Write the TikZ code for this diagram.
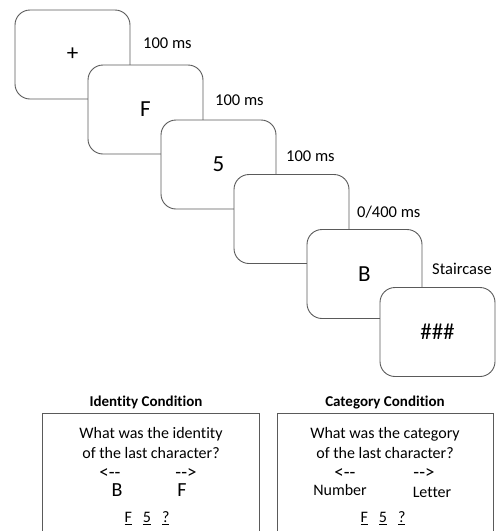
\documentclass[tikz,border=0pt]{standalone}
\usepackage{fontspec}
\setmainfont{Carlito}[Ligatures={TeX,NoCommon}]
\usepackage{tikz}

\tikzset{
  screen/.style={draw={rgb,255:red,90;green,90;blue,90}, fill=white, line width=0.9,
    rounded corners=15, minimum width=115, minimum height=89, inner sep=0,
    font=\fontsize{23}{26}\selectfont},
  timing/.style={anchor=west, inner sep=0, font=\fontsize{16.5}{18}\selectfont},
  question/.style={align=center, inner sep=0, font=\fontsize{16}{20}\selectfont},
  arrowtxt/.style={anchor=base, inner sep=0, font=\fontsize{19}{20}\selectfont},
  choice/.style={inner sep=0, font=\fontsize{16}{18}\selectfont},
  title/.style={inner sep=0, font=\fontsize{15}{17}\selectfont\bfseries},
  panel/.style={draw={rgb,255:red,90;green,90;blue,90}, line width=0.9}
}
\newcommand{\optrow}{\underline{F}\hspace{11pt}\underline{5}\hspace{11pt}\underline{?}}

\begin{document}
\begin{tikzpicture}[x=1pt,y=1pt,yscale=-1,xscale=1]
\useasboundingbox (0,0) rectangle (497,531);
%Shape: Rounded Rect (fixation)
\node [screen] (fix) at (72.5,54.5) {+};
%Shape: Rounded Rect (first char)
\node [screen] (charF) at (145.5,109.5) {F};
%Shape: Rounded Rect (second char)
\node [screen] (charFive) at (218.5,164.5) {5};
%Shape: Rounded Rect (blank)
\node [screen] (blank) at (291.5,219) {};
%Shape: Rounded Rect (target)
\node [screen] (target) at (364.5,274) {B};
%Shape: Rounded Rect (mask)
\node [screen] (mask) at (437.5,332) {\#\#\#};
% Text Node
\node [timing] (tFix) at (143,43) {100 ms};
% Text Node
\node [timing] (tF) at (215,100) {100 ms};
% Text Node
\node [timing] (tFive) at (286,156) {100 ms};
% Text Node
\node [timing] (tBlank) at (357,212) {0/400 ms};
% Text Node
\node [timing] (tTarget) at (432,269) {Staircase};

%Shape: Open box (identity)
\draw [panel] (42,531) -- (42,413) -- (259,413) -- (259,531) ;
%Shape: Open box (category)
\draw [panel] (277,531) -- (277,413) -- (493,413) -- (493,531) ;
% Text Node
\node [title] (idTitle) at (146,402) {Identity Condition};
% Text Node
\node [title] (catTitle) at (385,403) {Category Condition};
% Text Node
\node [question] (idQ) at (151,443) {What was the identity\\of the last character?};
% Text Node
\node [question] (catQ) at (385,443) {What was the category\\of the last character?};
% Text Node
\node [arrowtxt] (idLeft) at (110,478) {<{-}-};
% Text Node
\node [arrowtxt] (idRight) at (186,478) {-{-}>};
% Text Node
\node [inner sep=0, font=\fontsize{20}{22}\selectfont] (idB) at (117,490) {B};
% Text Node
\node [inner sep=0, font=\fontsize{20}{22}\selectfont] (idF) at (182,490) {F};
% Text Node
\node [arrowtxt] (catLeft) at (345,478) {<{-}-};
% Text Node
\node [arrowtxt] (catRight) at (424,478) {-{-}>};
% Text Node
\node [choice] (catNum) at (340,490) {Number};
% Text Node
\node [choice] (catLet) at (432,492) {Letter};
% Text Node
\node [choice] (idOpts) at (147,518) {\optrow};
% Text Node
\node [choice] (catOpts) at (383,518) {\optrow};
\end{tikzpicture}
\end{document}
